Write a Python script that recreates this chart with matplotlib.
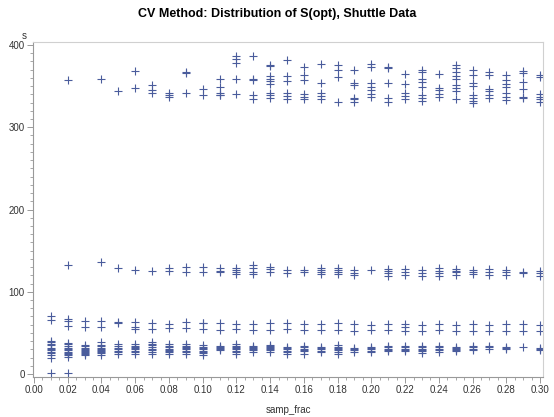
import matplotlib.pyplot as plt
from matplotlib.ticker import MultipleLocator

# samp_frac values 0.01 .. 0.30
samp_frac = [round(0.01 * k, 2) for k in range(1, 31)]

# S(opt), grouped by cluster, one list per samp_frac
s_high = [
    [],
    [358],
    [],
    [359],
    [343.5],
    [368.5, 348],
    [351, 345, 342],
    [342, 339.5, 337],
    [367, 366, 342],
    [346, 338.6],
    [359, 349, 342, 339, 338.6],
    [386, 383, 378, 359, 340],
    [386, 359, 357, 339, 334.5],
    [375.5, 375, 362, 359, 356, 352, 341, 338.6, 336],
    [381.5, 362, 356, 341, 338, 334],
    [373, 363, 358, 340, 337, 334],
    [376.7, 354, 341, 338, 334.5],
    [375.5, 370, 361, 331],
    [369, 354, 351, 336, 334, 330.5],
    [376.7, 372.7, 354, 349, 345, 340, 337],
    [372.7, 372, 354, 335, 331],
    [365, 352, 341, 338, 334.5],
    [369, 367, 359, 355, 349, 339, 336, 332],
    [365, 348, 345, 340, 337],
    [375.5, 371.5, 367, 362, 359, 351, 348, 344, 334],
    [369, 363, 354, 350, 339, 336, 332, 330],
    [367, 363, 346, 344, 339, 336],
    [363, 357, 352, 349, 341, 337, 333],
    [368.5, 366, 355, 347, 337, 335],
    [363, 360.5, 340, 337, 334, 331],
]

s_mid = [
    [],
    [133],
    [],
    [136.5],
    [128.4],
    [126],
    [125],
    [128.4, 125],
    [130.4, 124.3],
    [130, 124.3],
    [128.4, 125, 123.5],
    [129, 126.3, 123.5, 121],
    [133, 129, 123.5, 121],
    [130.4, 127.5, 124.3],
    [126.3, 122.4],
    [126.3, 123.5],
    [128.4, 126.3, 123.5, 121],
    [129, 126.3, 123.5, 121],
    [126.3, 122.4, 120.5],
    [126.3],
    [127.6, 125, 122.4, 119.5],
    [127.6, 124.3, 120.5],
    [126.3, 122.4, 119.5],
    [128.4, 125, 122.4, 119.5],
    [127.6, 125, 123.5, 120.5],
    [126.3, 123.5, 121],
    [127.6, 124.3, 120.5],
    [126.3, 123.5, 120.5],
    [124.3, 122.4],
    [125, 122.4, 119.5],
]

s_low = [
    [70.5, 65.6],
    [67, 64, 58.7],
    [64, 57],
    [64, 57.5],
    [63, 62.6],
    [63.6, 57.5, 54.7],
    [62.6, 55],
    [61, 56],
    [63.6, 56],
    [62.6, 61.5, 55],
    [61.6, 53.5],
    [61, 54.7],
    [61, 53.5],
    [61.6, 53.5],
    [62.3, 54.7],
    [60.7, 53.5],
    [60.7, 53.5],
    [61.6, 53.5],
    [60.7, 52.5],
    [60, 53.5],
    [60.7, 53.5],
    [60.7, 56.6, 52.5],
    [60, 52.5],
    [60.7, 53.5],
    [60, 52.5],
    [60.7, 52.5],
    [60, 52],
    [60.7, 52.5],
    [60.7, 52.5],
    [59.4, 52],
]

s_bottom = [
    [40, 38.5, 36, 35, 32, 30, 29, 27, 26, 23, 20, 1],
    [38, 37, 34, 32, 31, 29, 27, 26, 24.7, 23, 21, 1],
    [35, 33.5, 32, 31, 29.5, 28, 27, 25.5, 24, 23],
    [38.5, 35, 34, 32, 31, 29.5, 28.6, 27, 25.4, 23],
    [37, 34.5, 32, 30.4, 28, 26.5, 24.7],
    [36, 34.5, 33, 31.5, 30.4, 28.5, 27, 24.7],
    [38.5, 36, 35, 33, 31, 29, 27, 24],
    [37, 34.5, 32.5, 31, 29.5, 28, 26.5, 24.7],
    [36, 34.5, 33, 31.5, 30.4, 28.5, 27, 24],
    [35, 33, 31.5, 30.4, 28.5, 27, 25, 23],
    [34.4, 33, 32, 30.5, 29.5],
    [36, 34.5, 33, 31.5, 30.4, 28.5, 27, 24],
    [34.4, 33, 32, 30.5, 29, 26.5],
    [35, 33.5, 32.8, 31.5, 30.4, 29, 27],
    [33, 31.5, 30.4, 28.5, 27, 24],
    [34.4, 33, 31, 29.5, 28, 24.7],
    [33, 31.5, 30.4, 28.5, 27],
    [35, 33, 32, 30.5, 29, 26.5, 24],
    [32, 30.5, 29, 27],
    [33, 31.5, 30.4, 28.5, 27],
    [34.4, 32.5, 31, 29.5, 28],
    [34.4, 32.5, 31, 29.5, 28],
    [34.4, 32.5, 31, 29.5, 28, 25.4],
    [34.4, 32.5, 31, 29, 27],
    [33, 31.5, 30.4, 29, 28],
    [34.4, 32.5, 31, 29],
    [34.4, 32.5, 31],
    [33, 31.5, 30.4],
    [33],
    [32, 30.5, 29],
]

xs, ys = [], []
for group in (s_high, s_mid, s_low, s_bottom):
    for f, vals in zip(samp_frac, group):
        for v in vals:
            xs.append(f)
            ys.append(v)

plt.rcParams['font.family'] = ['Liberation Sans', 'DejaVu Sans']

fig = plt.figure(figsize=(5.54, 4.17), dpi=100)
ax = fig.add_axes([0.0596, 0.0959, 0.9206, 0.8034])

ax.plot(xs, ys, linestyle='none', marker='+', markersize=5.5,
        markeredgewidth=0.8, color='#4a5c9c')

ax.set_xlim(-0.0006, 0.3018)
ax.set_ylim(-3.6, 403.6)

ax.xaxis.set_major_locator(MultipleLocator(0.02))
ax.xaxis.set_minor_locator(MultipleLocator(0.005))
ax.yaxis.set_major_locator(MultipleLocator(100))
ax.yaxis.set_minor_locator(MultipleLocator(10))
ax.xaxis.set_major_formatter(lambda v, p: f'{v:.2f}')

ax.tick_params(which='major', length=4, width=0.7, color='#999999',
               labelsize=7, labelcolor='#333333', pad=2)
ax.tick_params(which='minor', length=2, width=0.6, color='#999999')

for side in ('left', 'bottom'):
    ax.spines[side].set_color('#999999')
    ax.spines[side].set_linewidth(0.8)
for side in ('top', 'right'):
    ax.spines[side].set_color('#d0d0d0')
    ax.spines[side].set_linewidth(0.8)

ax.set_xlabel('samp_frac', fontsize=7, color='#333333', labelpad=7)
fig.text(24 / 554, 1 - 36 / 417, 's', fontsize=7, color='#333333',
         ha='center', va='center')

fig.suptitle('CV Method: Distribution of S(opt), Shuttle Data',
             fontsize=9, fontweight='bold', x=0.5, y=1 - 14 / 417,
             va='center')

fig.savefig('out.png', dpi=100)
